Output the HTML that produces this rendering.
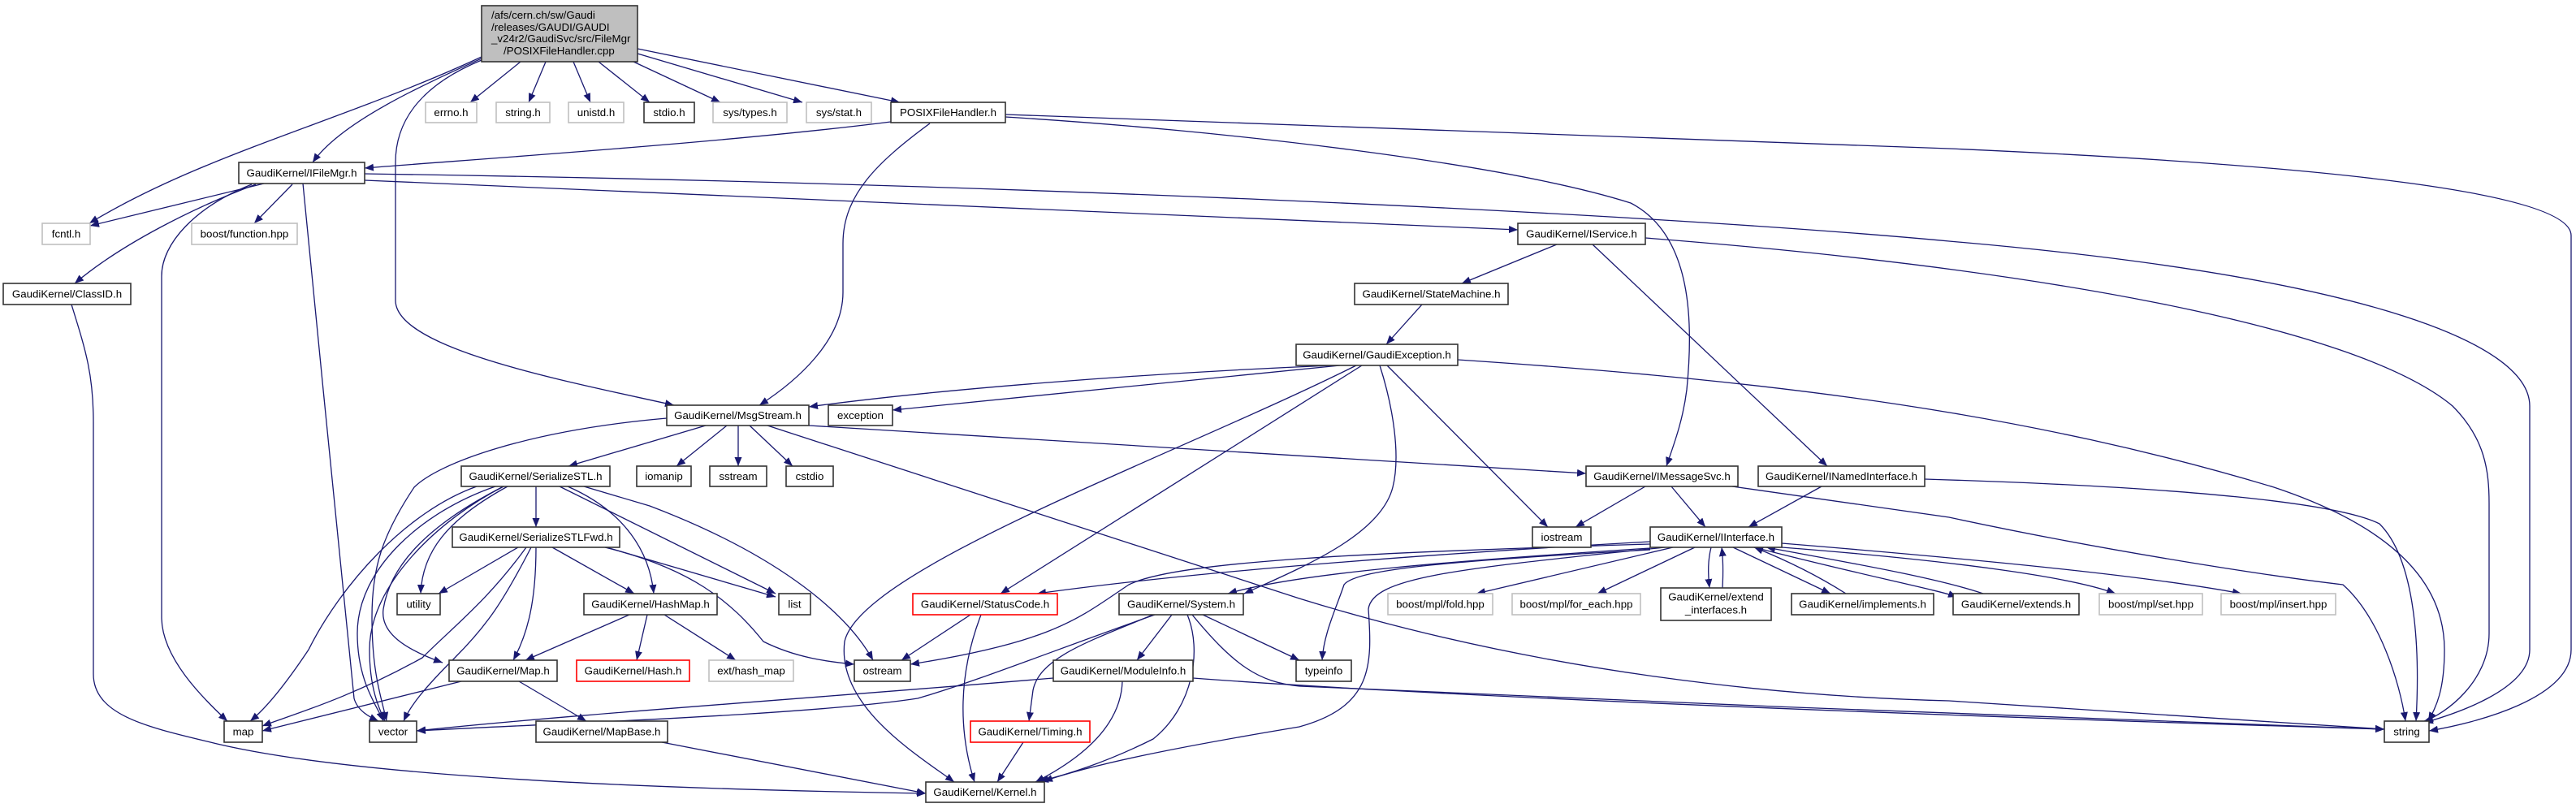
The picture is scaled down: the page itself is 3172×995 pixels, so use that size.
<!DOCTYPE html>
<html><head><meta charset="utf-8"><style>
html,body{margin:0;padding:0;background:#fff;}
svg{display:block;}
text{font-family:"Liberation Sans",sans-serif;font-size:13.3px;fill:#000;}
.b{fill:#fff;stroke:#333;stroke-width:1.6;}
.g{fill:#fff;stroke:#c0c0c0;stroke-width:1.6;}
.r{fill:#fff;stroke:#ff0000;stroke-width:1.6;}
.e{fill:none;stroke:#191970;stroke-width:1.3;marker-end:url(#a);}
</style></head><body>
<svg width="3172" height="995" viewBox="0 0 3172 995" xmlns="http://www.w3.org/2000/svg">
<defs><marker id="a" markerUnits="userSpaceOnUse" markerWidth="12" markerHeight="9" refX="11" refY="4.5" orient="auto"><path d="M0,0 L11,4.5 L0,9 z" fill="#191970"/></marker></defs>
<g>
<path class="e" d="M641,76 L579,126"/>
<path class="e" d="M672,76 L651,126"/>
<path class="e" d="M706,76 L727,126"/>
<path class="e" d="M737,76 L800,126"/>
<path class="e" d="M780,76 L887,126"/>
<path class="e" d="M785,66 L988,126"/>
<path class="e" d="M785,60 L1108,126"/>
<path class="e" d="M593,72 C520,105 420,150 385,200"/>
<path class="e" d="M593,70 C420,150 250,190 110,275"/>
<path class="e" d="M593,74 C530,100 487,140 487,200 L487,370 C487,430 700,470 830,499"/>
<path class="e" d="M1097,150 C900,175 600,195 449,207"/>
<path class="e" d="M1145,152 C1080,200 1038,240 1038,300 L1038,360 C1038,420 980,470 935,499"/>
<path class="e" d="M1238,144 C1500,160 1850,200 2008,250 C2085,290 2085,400 2077,480 C2072,520 2060,550 2052,574"/>
<path class="e" d="M1238,141 L2400,183 C2900,205 3166,240 3166,290 L3166,800 C3166,860 3050,890 2991,900"/>
<path class="e" d="M325,226 L111,278"/>
<path class="e" d="M360,227 L313,275"/>
<path class="e" d="M315,227 C240,255 150,300 92,349"/>
<path class="e" d="M310,227 C240,255 199,300 199,340 L199,760 C199,810 250,860 280,888"/>
<path class="e" d="M373,226 L398,480 L436,860 C440,875 455,883 466,888"/>
<path class="e" d="M449,222 L1869,283"/>
<path class="e" d="M449,214 C1200,225 2000,260 2400,297 C2900,340 3115,420 3115,500 L3115,800 C3115,850 3020,880 2985,890"/>
<path class="e" d="M1917,301 L1800,349"/>
<path class="e" d="M1961,301 L2250,574"/>
<path class="e" d="M2026,293 C2500,330 2900,400 3020,500 C3060,540 3065,580 3065,620 L3065,780 C3065,840 3010,880 2985,888"/>
<path class="e" d="M1795,443 C2200,470 2500,510 2800,600 C2950,650 3010,720 3010,800 C3010,850 3000,870 2990,888"/>
<path class="e" d="M2370,590 C2700,600 2880,620 2930,645 C2975,690 2980,800 2975,888"/>
<path class="e" d="M2133,599 L2400,637 C2600,680 2800,710 2885,720 C2930,760 2955,840 2962,888"/>
<path class="e" d="M1751,375 L1707,424"/>
<path class="e" d="M1640,450 C1400,460 1150,480 996,501"/>
<path class="e" d="M1650,450 C1450,470 1250,490 1099,505"/>
<path class="e" d="M1677,450 L1232,731"/>
<path class="e" d="M1670,450 C1450,560 1060,700 1040,790 C1030,870 1130,930 1175,963"/>
<path class="e" d="M1699,450 C1715,500 1725,560 1715,600 C1700,660 1600,700 1532,731"/>
<path class="e" d="M1708,450 L1906,649"/>
<path class="e" d="M895,524 L833,574"/>
<path class="e" d="M909,524 L909,574"/>
<path class="e" d="M923,524 L976,574"/>
<path class="e" d="M869,524 L700,574"/>
<path class="e" d="M996,524 L1953,583"/>
<path class="e" d="M821,515 C650,530 540,570 510,600 C470,660 458,700 458,760 C458,830 470,860 476,888"/>
<path class="e" d="M945,524 L1600,737 C1900,830 2200,858 2400,863 L2936,898"/>
<path class="e" d="M660,599 L660,649"/>
<path class="e" d="M587,599 C500,630 420,720 380,800 C340,860 318,880 308,888"/>
<path class="e" d="M610,599 C520,630 440,700 440,780 C440,840 465,870 472,888"/>
<path class="e" d="M620,599 C540,640 455,720 455,800 C455,850 468,875 474,888"/>
<path class="e" d="M620,599 C520,650 480,700 472,750 C468,780 500,800 545,816"/>
<path class="e" d="M625,599 C550,640 520,680 518,731"/>
<path class="e" d="M699,599 C770,630 800,680 805,731"/>
<path class="e" d="M689,599 L955,731"/>
<path class="e" d="M719,599 L800,623 C950,680 1040,750 1075,813"/>
<path class="e" d="M638,674 L540,731"/>
<path class="e" d="M648,674 C600,740 560,770 520,810 C430,860 360,880 323,894"/>
<path class="e" d="M654,674 C620,740 600,770 560,810 C520,850 505,870 497,888"/>
<path class="e" d="M660,674 C660,740 650,780 632,813"/>
<path class="e" d="M680,674 L781,731"/>
<path class="e" d="M740,672 L955,735"/>
<path class="e" d="M745,674 C850,700 900,740 940,790 C980,810 1020,815 1052,818"/>
<path class="e" d="M775,757 L647,813"/>
<path class="e" d="M797,757 L784,813"/>
<path class="e" d="M818,757 L906,813"/>
<path class="e" d="M568,839 L323,900"/>
<path class="e" d="M639,839 L722,888"/>
<path class="e" d="M815,914 L1140,977"/>
<path class="e" d="M88,375 C105,430 115,460 115,520 L115,830 C115,880 180,895 255,913 C400,950 700,970 1140,977"/>
<path class="e" d="M2026,599 L1940,649"/>
<path class="e" d="M2058,599 L2100,649"/>
<path class="e" d="M2243,599 L2153,649"/>
<path class="e" d="M2060,674 L1818,731"/>
<path class="e" d="M2087,674 L1967,731"/>
<path class="e" d="M2107,674 C2103,690 2103,705 2105,724"/>
<path class="e" d="M2121,724 C2122,705 2122,690 2120,674"/>
<path class="e" d="M2134,674 L2254,731"/>
<path class="e" d="M2273,731 C2240,710 2200,690 2160,674"/>
<path class="e" d="M2160,674 C2300,710 2380,725 2410,735"/>
<path class="e" d="M2442,731 C2380,710 2260,690 2175,674"/>
<path class="e" d="M2194,674 C2400,690 2550,710 2605,731"/>
<path class="e" d="M2194,669 C2450,690 2650,710 2760,731"/>
<path class="e" d="M2032,667 C1800,680 1500,700 1277,731"/>
<path class="e" d="M2032,670 C1700,680 1450,690 1390,720 C1330,760 1300,790 1121,818"/>
<path class="e" d="M2032,675 C1800,690 1600,705 1512,731"/>
<path class="e" d="M2032,677 C1800,690 1670,700 1655,720 C1645,750 1630,780 1628,813"/>
<path class="e" d="M2050,674 C1800,700 1690,710 1685,750 C1690,820 1690,870 1600,895 C1450,920 1350,940 1285,962"/>
<path class="e" d="M1443,757 L1400,813"/>
<path class="e" d="M1420,757 C1340,790 1280,810 1272,850 L1267,888"/>
<path class="e" d="M1462,757 C1480,800 1470,870 1420,910 C1360,940 1310,955 1280,962"/>
<path class="e" d="M1481,757 L1600,813"/>
<path class="e" d="M1422,757 C1300,800 1200,840 1130,860 C1000,880 700,890 513,900"/>
<path class="e" d="M1468,757 C1520,820 1550,840 1600,845 C2000,865 2600,885 2936,898"/>
<path class="e" d="M1297,835 C1000,860 700,880 513,900"/>
<path class="e" d="M1382,839 C1380,900 1320,940 1275,963"/>
<path class="e" d="M1469,835 C1600,845 2000,870 2936,898"/>
<path class="e" d="M1195,757 L1110,813"/>
<path class="e" d="M1208,757 C1180,830 1180,900 1200,963"/>
<path class="e" d="M1260,914 L1228,963"/>
</g>
<g>
<rect x="593" y="7" width="192" height="69" fill="#bfbfbf" stroke="#333" stroke-width="1.6"/>
<text x="605" y="23">/afs/cern.ch/sw/Gaudi</text>
<text x="605" y="38">/releases/GAUDI/GAUDI</text>
<text x="605" y="52">_v24r2/GaudiSvc/src/FileMgr</text>
<text x="620" y="67">/POSIXFileHandler.cpp</text>
</g>
<g text-anchor="middle">
<rect class="g" x="524" y="126" width="63" height="25"/><text x="555.5" y="143">errno.h</text>
<rect class="g" x="611" y="126" width="66" height="25"/><text x="644" y="143">string.h</text>
<rect class="g" x="700" y="126" width="68" height="25"/><text x="734" y="143">unistd.h</text>
<rect class="b" x="793" y="126" width="62" height="25"/><text x="824" y="143">stdio.h</text>
<rect class="g" x="878" y="126" width="91" height="25"/><text x="923.5" y="143">sys/types.h</text>
<rect class="g" x="993" y="126" width="80" height="25"/><text x="1033" y="143">sys/stat.h</text>
<rect class="b" x="1097" y="126" width="141" height="25"/><text x="1167.5" y="143">POSIXFileHandler.h</text>
<rect class="b" x="294" y="200" width="155" height="26"/><text x="371.5" y="217.5">GaudiKernel/IFileMgr.h</text>
<rect class="g" x="52" y="275" width="59" height="26"/><text x="81.5" y="292.5">fcntl.h</text>
<rect class="g" x="236" y="275" width="130" height="26"/><text x="301" y="292.5">boost/function.hpp</text>
<rect class="b" x="1869" y="275" width="157" height="26"/><text x="1947.5" y="292.5">GaudiKernel/IService.h</text>
<rect class="b" x="4" y="349" width="157" height="26"/><text x="82.5" y="366.5">GaudiKernel/ClassID.h</text>
<rect class="b" x="1668" y="349" width="189" height="26"/><text x="1762.5" y="366.5">GaudiKernel/StateMachine.h</text>
<rect class="b" x="1596" y="424" width="199" height="26"/><text x="1695.5" y="441.5">GaudiKernel/GaudiException.h</text>
<rect class="b" x="821" y="499" width="175" height="25"/><text x="908.5" y="516">GaudiKernel/MsgStream.h</text>
<rect class="b" x="1020" y="499" width="79" height="25"/><text x="1059.5" y="516">exception</text>
<rect class="b" x="568" y="574" width="183" height="25"/><text x="659.5" y="591">GaudiKernel/SerializeSTL.h</text>
<rect class="b" x="784" y="574" width="67" height="25"/><text x="817.5" y="591">iomanip</text>
<rect class="b" x="874" y="574" width="70" height="25"/><text x="909" y="591">sstream</text>
<rect class="b" x="968" y="574" width="58" height="25"/><text x="997" y="591">cstdio</text>
<rect class="b" x="1953" y="574" width="187" height="25"/><text x="2046.5" y="591">GaudiKernel/IMessageSvc.h</text>
<rect class="b" x="2165" y="574" width="205" height="25"/><text x="2267.5" y="591">GaudiKernel/INamedInterface.h</text>
<rect class="b" x="557" y="649" width="206" height="25"/><text x="660" y="666">GaudiKernel/SerializeSTLFwd.h</text>
<rect class="b" x="1887" y="649" width="72" height="25"/><text x="1923" y="666">iostream</text>
<rect class="b" x="2032" y="649" width="162" height="25"/><text x="2113" y="666">GaudiKernel/IInterface.h</text>
<rect class="b" x="489" y="731" width="53" height="26"/><text x="515.5" y="748.5">utility</text>
<rect class="b" x="719" y="731" width="164" height="26"/><text x="801" y="748.5">GaudiKernel/HashMap.h</text>
<rect class="b" x="959" y="731" width="39" height="26"/><text x="978.5" y="748.5">list</text>
<rect class="r" x="1124" y="731" width="178" height="26"/><text x="1213" y="748.5">GaudiKernel/StatusCode.h</text>
<rect class="b" x="1378" y="731" width="153" height="26"/><text x="1454.5" y="748.5">GaudiKernel/System.h</text>
<rect class="g" x="1709" y="731" width="129" height="26"/><text x="1773.5" y="748.5">boost/mpl/fold.hpp</text>
<rect class="g" x="1862" y="731" width="158" height="26"/><text x="1941" y="748.5">boost/mpl/for_each.hpp</text>
<rect class="b" x="2045" y="724" width="136" height="40"/><text x="2113" y="739.5">GaudiKernel/extend</text><text x="2113" y="755.5">_interfaces.h</text>
<rect class="b" x="2206" y="731" width="175" height="26"/><text x="2293.5" y="748.5">GaudiKernel/implements.h</text>
<rect class="b" x="2405" y="731" width="155" height="26"/><text x="2482.5" y="748.5">GaudiKernel/extends.h</text>
<rect class="g" x="2585" y="731" width="127" height="26"/><text x="2648.5" y="748.5">boost/mpl/set.hpp</text>
<rect class="g" x="2735" y="731" width="141" height="26"/><text x="2805.5" y="748.5">boost/mpl/insert.hpp</text>
<rect class="b" x="553" y="813" width="133" height="26"/><text x="619.5" y="830.5">GaudiKernel/Map.h</text>
<rect class="r" x="710" y="813" width="139" height="26"/><text x="779.5" y="830.5">GaudiKernel/Hash.h</text>
<rect class="g" x="873" y="813" width="104" height="26"/><text x="925" y="830.5">ext/hash_map</text>
<rect class="b" x="1052" y="813" width="69" height="26"/><text x="1086.5" y="830.5">ostream</text>
<rect class="b" x="1297" y="813" width="172" height="26"/><text x="1383" y="830.5">GaudiKernel/ModuleInfo.h</text>
<rect class="b" x="1596" y="813" width="68" height="26"/><text x="1630" y="830.5">typeinfo</text>
<rect class="b" x="276" y="888" width="47" height="26"/><text x="299.5" y="905.5">map</text>
<rect class="b" x="455" y="888" width="58" height="26"/><text x="484" y="905.5">vector</text>
<rect class="b" x="660" y="888" width="162" height="26"/><text x="741" y="905.5">GaudiKernel/MapBase.h</text>
<rect class="r" x="1195" y="888" width="147" height="26"/><text x="1268.5" y="905.5">GaudiKernel/Timing.h</text>
<rect class="b" x="2936" y="888" width="55" height="26"/><text x="2963.5" y="905.5">string</text>
<rect class="b" x="1140" y="963" width="146" height="25"/><text x="1213" y="980">GaudiKernel/Kernel.h</text>
</g>
</svg>
</body></html>
